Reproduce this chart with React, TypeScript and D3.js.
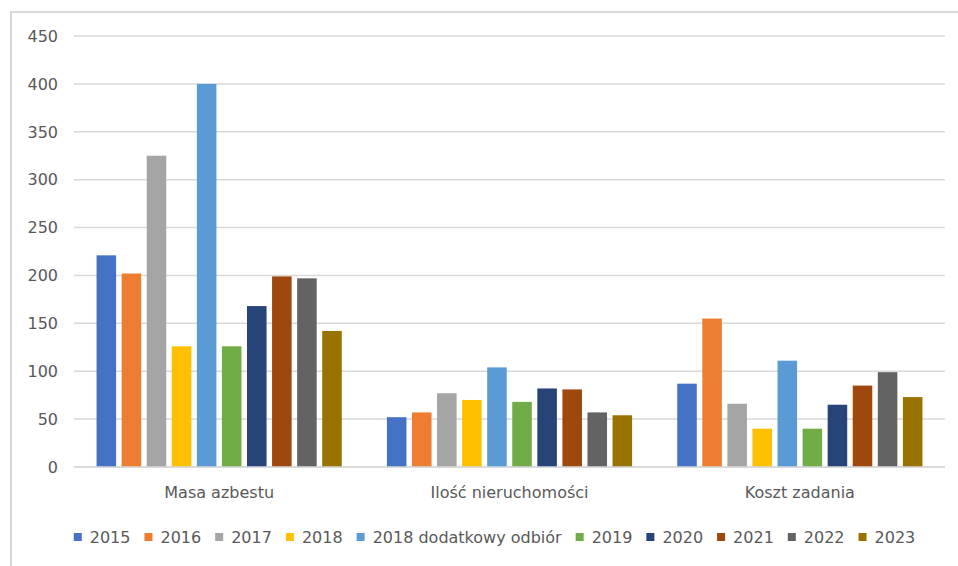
import React, { useEffect, useRef } from "react";
import * as d3 from "d3";

const categories = ["Masa azbestu", "Ilość nieruchomości", "Koszt zadania"];
const seriesNames = ["2015", "2016", "2017", "2018", "2018 dodatkowy odbiór", "2019", "2020", "2021", "2022", "2023"];
const seriesColors = ["#4472C4", "#ED7D31", "#A5A5A5", "#FFC000", "#5B9BD5", "#70AD47", "#264478", "#9E480E", "#636363", "#997300"];
const masaAzbestu = [221, 202, 325, 126, 400, 126, 168, 199, 197, 142];
const iloscNieruchomosci = [52, 57, 77, 70, 104, 68, 82, 81, 57, 54];
const kosztZadania = [87, 155, 66, 40, 111, 40, 65, 85, 99, 73];
const yTicks = [0, 50, 100, 150, 200, 250, 300, 350, 400, 450];

const W = 958;
const H = 566;
const FONT = "'DejaVu Sans', sans-serif";

export default function App() {
  const ref = useRef<SVGSVGElement | null>(null);

  useEffect(() => {
    const svg = d3.select(ref.current);
    svg.selectAll("*").remove();

    const values = [masaAzbestu, iloscNieruchomosci, kosztZadania];
    const left = 74, right = 945, top = 36, bottom = 467;

    // chart border (left and top edges visible)
    svg.append("line").attr("x1", 11).attr("x2", 11).attr("y1", 11).attr("y2", H)
      .attr("stroke", "#d9d9d9").attr("stroke-width", 2);
    svg.append("line").attr("x1", 10).attr("x2", W).attr("y1", 12).attr("y2", 12)
      .attr("stroke", "#d9d9d9").attr("stroke-width", 2);

    const y = d3.scaleLinear().domain([0, 450]).range([bottom, top]);
    const x0 = d3.scaleBand<string>().domain(categories).range([left, right]).padding(0);
    const x1 = d3.scaleBand<string>().domain(seriesNames).range([0, x0.bandwidth()])
      .paddingInner(0.22).paddingOuter(0.9);

    // gridlines
    svg.append("g").selectAll("line").data(yTicks).join("line")
      .attr("x1", left).attr("x2", right)
      .attr("y1", (d) => y(d)).attr("y2", (d) => y(d))
      .attr("stroke", "#d9d9d9").attr("stroke-width", 1.5);

    // tick labels
    svg.append("g").selectAll("text").data(yTicks).join("text")
      .attr("x", 58).attr("y", (d) => y(d)).attr("dy", "0.36em")
      .attr("text-anchor", "end").attr("font-family", FONT).attr("font-size", 16)
      .attr("fill", "#595959").text((d) => String(d));

    // bars
    const groups = svg.append("g").selectAll("g").data(categories).join("g")
      .attr("transform", (c) => `translate(${x0(c)},0)`);
    groups.selectAll("rect").data((c) => seriesNames.map((s, si) => ({ s, si, v: values[categories.indexOf(c)][si] })))
      .join("rect")
      .attr("x", (d) => x1(d.s)!)
      .attr("width", x1.bandwidth())
      .attr("y", (d) => y(d.v))
      .attr("height", (d) => y(0) - y(d.v))
      .attr("fill", (d) => seriesColors[d.si]);

    // baseline
    svg.append("line").attr("x1", left).attr("x2", right).attr("y1", y(0)).attr("y2", y(0))
      .attr("stroke", "#d9d9d9").attr("stroke-width", 1.5);

    // category labels
    svg.append("g").selectAll("text").data(categories).join("text")
      .attr("x", (c) => x0(c)! + x0.bandwidth() / 2).attr("y", 498)
      .attr("text-anchor", "middle").attr("font-family", FONT).attr("font-size", 16)
      .attr("fill", "#595959").text((c) => c);

    // legend
    const lg = svg.append("g");
    const items = lg.selectAll("g").data(seriesNames).join("g");
    items.append("rect").attr("width", 8).attr("height", 8).attr("y", 533)
      .attr("fill", (d, i) => seriesColors[i]);
    items.append("text").attr("x", 16).attr("y", 543)
      .attr("font-family", FONT).attr("font-size", 16).attr("fill", "#595959").text((d) => d);
    let cx = 0;
    const offsets: number[] = [];
    items.each(function () {
      const t = d3.select(this).select("text").node() as SVGTextElement;
      offsets.push(cx);
      cx += 16 + t.getComputedTextLength() + 14;
    });
    const total = cx - 14;
    const startX = (left + right) / 2 - total / 2 - 15;
    items.attr("transform", (d, i) => `translate(${startX + offsets[i]},0)`);
  }, []);

  return (
    <svg ref={ref} width={W} height={H}
      style={{ position: "fixed", left: 0, top: 0, display: "block", background: "#fff" }} />
  );
}
